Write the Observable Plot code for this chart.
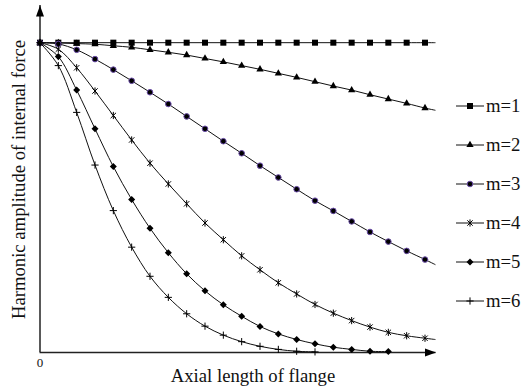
<!DOCTYPE html>
<html><head><meta charset="utf-8">
<script src="https://cdn.jsdelivr.net/npm/d3@7"></script>
<script src="https://cdn.jsdelivr.net/npm/@observablehq/plot@0.6"></script>
<style>
body{margin:0;background:#fff;}
#wrap{position:relative;width:523px;height:386px;font-family:"Liberation Serif","Times New Roman",serif;}
#wrap svg{position:absolute;left:0;top:0;}
</style></head><body><div id="wrap"></div>
<script>
// ---- data ----
const seriesNames = ["m=1", "m=2", "m=3", "m=4", "m=5", "m=6"];
const positions = [0,1,2,3,4,5,6,7,8,9,10,11,12,13,14,15,16,17,18,19,20,21];
const m1 = [1,1,1,1,1,1,1,1,1,1,1,1,1,1,1,1,1,1,1,1,1,1];
const m2 = [1.000,0.999,0.997,0.995,0.990,0.985,0.977,0.969,0.960,0.949,0.938,0.926,0.914,0.901,0.888,0.874,0.860,0.847,0.832,0.818,0.804,0.789];
const m3 = [1.000,0.996,0.977,0.947,0.913,0.877,0.840,0.802,0.762,0.722,0.682,0.643,0.603,0.565,0.527,0.490,0.457,0.423,0.389,0.358,0.328,0.300];
const m4 = [1.000,0.979,0.919,0.844,0.765,0.686,0.611,0.544,0.480,0.418,0.364,0.312,0.267,0.225,0.189,0.155,0.127,0.103,0.082,0.065,0.054,0.046];
const m5 = [1.000,0.955,0.847,0.722,0.600,0.494,0.401,0.322,0.254,0.199,0.154,0.117,0.084,0.060,0.042,0.028,0.017,0.010,0.004,0.003];
const m6 = [1.000,0.926,0.775,0.605,0.458,0.340,0.246,0.178,0.125,0.085,0.056,0.035,0.020,0.010,0.004,0.002];
// line continuation past the last marker (m=1..m=4)
const tailPosition = 21.55;
const tailValues = [1.000, 0.782, 0.284, 0.042];
const xTickLabels = ["0"];
const xTitle = "Axial length of flange";
const yTitle = "Harmonic amplitude of internal force";
const xAxisEnd = 21.6, yAxisEnd = 1.12;

// ---- symbols ----
const diamondSym = {draw(c, s){ const r = Math.sqrt(s/2); c.moveTo(0,-r); c.lineTo(r,0); c.lineTo(0,r); c.lineTo(-r,0); c.closePath(); }};
const starSym = {draw(c, s){ const r = Math.sqrt(s/Math.PI); const d = r*0.75; c.moveTo(-d,-d); c.lineTo(d,d); c.moveTo(-d,d); c.lineTo(d,-d); c.moveTo(0,-r); c.lineTo(0,r); }};
const plusSym = {draw(c, s){ const r = Math.sqrt(s/Math.PI); c.moveTo(-r,0); c.lineTo(r,0); c.moveTo(0,-r); c.lineTo(0,r); }};
const arrowSym = {draw(c){ c.moveTo(0,0); c.lineTo(-4,11); c.lineTo(4,11); c.closePath(); }};

const styles = [
  {symbol:"square", r:3.4, fill:"#000", stroke:"none", sw:0},
  {symbol:"triangle", r:2.7, fill:"#000", stroke:"none", sw:0},
  {symbol:"circle", r:2.8, fill:"#000", stroke:"#6a4ca8", sw:1},
  {symbol:starSym, r:3.6, fill:"none", stroke:"#000", sw:1},
  {symbol:diamondSym, r:2.8, fill:"#000", stroke:"none", sw:0},
  {symbol:plusSym, r:3.6, fill:"none", stroke:"#000", sw:1}
];

const seriesValues = [m1, m2, m3, m4, m5, m6];
const points = [];
seriesValues.forEach((vals, i) => vals.forEach((v, k) => points.push({series: seriesNames[i], x: positions[k], v})));
const linePts = [];
seriesValues.forEach((vals, i) => {
  vals.forEach((v, k) => linePts.push({series: seriesNames[i], x: positions[k], v}));
  if (i < tailValues.length) linePts.push({series: seriesNames[i], x: tailPosition, v: tailValues[i]});
});

const font = '"Liberation Serif","Times New Roman",serif';
const marks = [
  Plot.ruleX([0], {y1: 0, y2: yAxisEnd, stroke: "#222", strokeWidth: 1.5}),
  Plot.ruleY([0], {x1: 0, x2: xAxisEnd, stroke: "#222", strokeWidth: 1.5}),
  Plot.dot([0], {x: 0, y: yAxisEnd, symbol: arrowSym, fill: "#000", stroke: "none"}),
  Plot.dot([0], {x: xAxisEnd, y: 0, symbol: arrowSym, fill: "#000", stroke: "none", rotate: 90}),
  Plot.line(linePts, {x: "x", y: "v", z: "series", curve: "catmull-rom", stroke: "#111", strokeWidth: 1}),
  ...styles.map((st, i) => Plot.dot(points.filter(d => d.series === seriesNames[i]), {
    x: "x", y: "v", symbol: st.symbol, r: st.r, fill: st.fill, stroke: st.stroke, strokeWidth: st.sw
  })),
  Plot.axisX({ticks: [0], tickSize: 0, tickPadding: 5, fontSize: 13, label: null, tickFormat: (d, i) => xTickLabels[i]}),
  Plot.text([xTitle], {frameAnchor: "bottom", lineAnchor: "bottom", textAnchor: "middle", dx: 15, dy: 29.5, fontSize: 18.7, fill: "#111"}),
  Plot.text([yTitle], {frameAnchor: "left", textAnchor: "middle", rotate: -90, dx: -20.5, dy: 0.5, fontSize: 18.7, fill: "#111"})
];

const chart = Plot.plot({
  width: 523, height: 386,
  marginLeft: 39.5, marginRight: 87.5, marginTop: 5, marginBottom: 34,
  style: {fontFamily: font, background: "#fff", color: "#111", overflow: "visible"},
  x: {domain: [0, xAxisEnd], range: [39.5, 435.5], axis: null},
  y: {domain: [0, yAxisEnd], range: [352, 5], axis: null},
  marks
});
document.getElementById("wrap").appendChild(chart);

// ---- legend ----
const legend = d3.select("#wrap").append("svg").attr("width", 523).attr("height", 386)
  .style("pointer-events", "none").style("font-family", font);
const rowY = d3.scalePoint().domain(seriesNames).range([106, 301]);
seriesNames.forEach((name, i) => {
  const st = styles[i];
  const cy = rowY(name);
  const g = legend.append("g");
  g.append("line").attr("x1", 456).attr("x2", 484).attr("y1", cy).attr("y2", cy).attr("stroke", "#111").attr("stroke-width", 1);
  const sym = typeof st.symbol === "string"
    ? ({square: d3.symbolSquare, triangle: d3.symbolTriangle, circle: d3.symbolCircle})[st.symbol]
    : st.symbol;
  g.append("path").attr("d", d3.symbol(sym, st.r * st.r * Math.PI)())
    .attr("transform", `translate(470,${cy})`)
    .attr("fill", st.fill).attr("stroke", st.stroke).attr("stroke-width", st.sw);
  g.append("text").attr("x", 486).attr("y", cy + 6).style("font-family", font).style("font-size", "18.7px").attr("fill", "#111").text(name);
});
</script></body></html>
